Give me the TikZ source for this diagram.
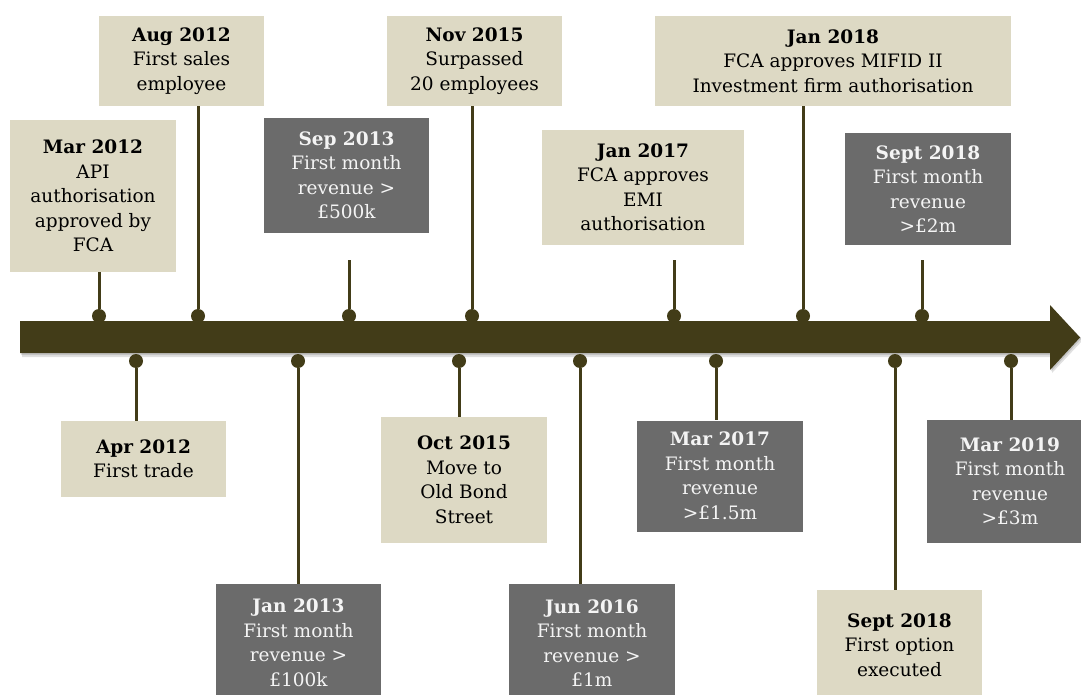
\documentclass[tikz,border=0pt]{standalone}
\usepackage{fontspec}
\setmainfont{DejaVu Serif}
\definecolor{barcol}{HTML}{423C18}
\definecolor{boxlight}{HTML}{DDD9C4}
\definecolor{boxdark}{HTML}{6B6B6B}
\definecolor{darktext}{HTML}{F4F4F4}
\newcommand\boxfnt{\fontsize{18.5}{24.5}\selectfont}
\begin{document}
\begin{tikzpicture}[x=1pt,y=-1pt,
  lightbox/.style={fill=boxlight, text=black, align=center, inner sep=0pt, font=\boxfnt},
  darkbox/.style={fill=boxdark, text=darktext, align=center, inner sep=0pt, font=\boxfnt},
  dotnode/.style={circle, fill=barcol, minimum size=14pt, inner sep=0pt},
  conn/.style={draw=barcol, line width=3pt},
  barshape/.style={fill=barcol}]
\useasboundingbox (0,0) rectangle (1081,695);
\clip (0,0) rectangle (1081,695);
\fill[white] (0,0) rectangle (1081,695);

% upper boxes
\node[lightbox, minimum width=166pt, minimum height=152pt] (b1) at (93,196) {\textbf{Mar 2012}\\API\\authorisation\\approved by\\FCA};
\node[lightbox, minimum width=165pt, minimum height=90pt] (b2) at (181.5,61) {\textbf{Aug 2012}\\First sales\\employee};
\node[darkbox, minimum width=165pt, minimum height=115pt] (b3) at (346.5,175.5) {\textbf{Sep 2013}\\First month\\revenue >\\£500k};
\node[lightbox, minimum width=175pt, minimum height=90pt] (b4) at (474.5,61) {\textbf{Nov 2015}\\Surpassed\\20 employees};
\node[lightbox, minimum width=202pt, minimum height=115pt] (b5) at (643,187.5) {\textbf{Jan 2017}\\FCA approves\\EMI\\authorisation};
\node[lightbox, minimum width=356pt, minimum height=90pt] (b6) at (833,61) {\textbf{Jan 2018}\\FCA approves MIFID II\\Investment firm authorisation};
\node[darkbox, minimum width=166pt, minimum height=112pt] (b7) at (928,189) {\textbf{Sept 2018}\\First month\\revenue\\>£2m};

% lower boxes
\node[lightbox, minimum width=165pt, minimum height=76pt] (c1) at (143.5,459) {\textbf{Apr 2012}\\First trade};
\node[darkbox, minimum width=165pt, minimum height=118pt] (c2) at (298.5,643) {\textbf{Jan 2013}\\First month\\revenue >\\£100k};
\node[lightbox, minimum width=166pt, minimum height=126pt] (c3) at (464,480) {\textbf{Oct 2015}\\Move to\\Old Bond\\Street};
\node[darkbox, minimum width=166pt, minimum height=111pt] (c5) at (720,476) {\textbf{Mar 2017}\\First month\\revenue\\>£1.5m};
\node[darkbox, minimum width=166pt, minimum height=118pt] (c4) at (592,643) {\textbf{Jun 2016}\\First month\\revenue >\\£1m};
\node[lightbox, minimum width=165pt, minimum height=110pt] (c6) at (899.5,645) {\textbf{Sept 2018}\\First option\\executed};
\node[darkbox, minimum width=166pt, minimum height=123pt] (c7) at (1010,481.5) {\textbf{Mar 2019}\\First month\\revenue\\>£3m};

% timeline bar with soft shadow
\fill[black, opacity=0.12] (22,324) -- (1052,324) -- (1052,308) -- (1083,340) -- (1052,373) -- (1052,357) -- (22,357) -- cycle;
\fill[black, opacity=0.12] (21,322.5) -- (1051,322.5) -- (1051,306.5) -- (1081.5,338.5) -- (1051,371.5) -- (1051,355) -- (21,355) -- cycle;
\fill[barshape] (20,321) -- (1050,321) -- (1050,305) -- (1080,337.5) -- (1050,370) -- (1050,353) -- (20,353) -- cycle;

% dots
\foreach \n/\x in {u1/99,u2/198,u3/349,u4/472,u5/674,u6/803,u7/922}
  \node[dotnode] (\n) at (\x,316) {};
\foreach \n/\x in {l1/136,l2/298,l3/459,l4/580,l5/716,l6/895,l7/1011}
  \node[dotnode] (\n) at (\x,361) {};

% free ends of short connectors
\coordinate (e3) at (349,260);
\coordinate (e5) at (674,260);
\coordinate (e7) at (922,260);

% connectors
\draw[conn] (u1) -- (u1 |- b1.south);
\draw[conn] (u2) -- (u2 |- b2.south);
\draw[conn] (u3) -- (e3);
\draw[conn] (u4) -- (u4 |- b4.south);
\draw[conn] (u5) -- (e5);
\draw[conn] (u6) -- (u6 |- b6.south);
\draw[conn] (u7) -- (e7);
\draw[conn] (l1) -- (l1 |- c1.north);
\draw[conn] (l2) -- (l2 |- c2.north);
\draw[conn] (l3) -- (l3 |- c3.north);
\draw[conn] (l4) -- (l4 |- c4.north);
\draw[conn] (l5) -- (l5 |- c5.north);
\draw[conn] (l6) -- (l6 |- c6.north);
\draw[conn] (l7) -- (l7 |- c7.north);
\end{tikzpicture}
\end{document}
